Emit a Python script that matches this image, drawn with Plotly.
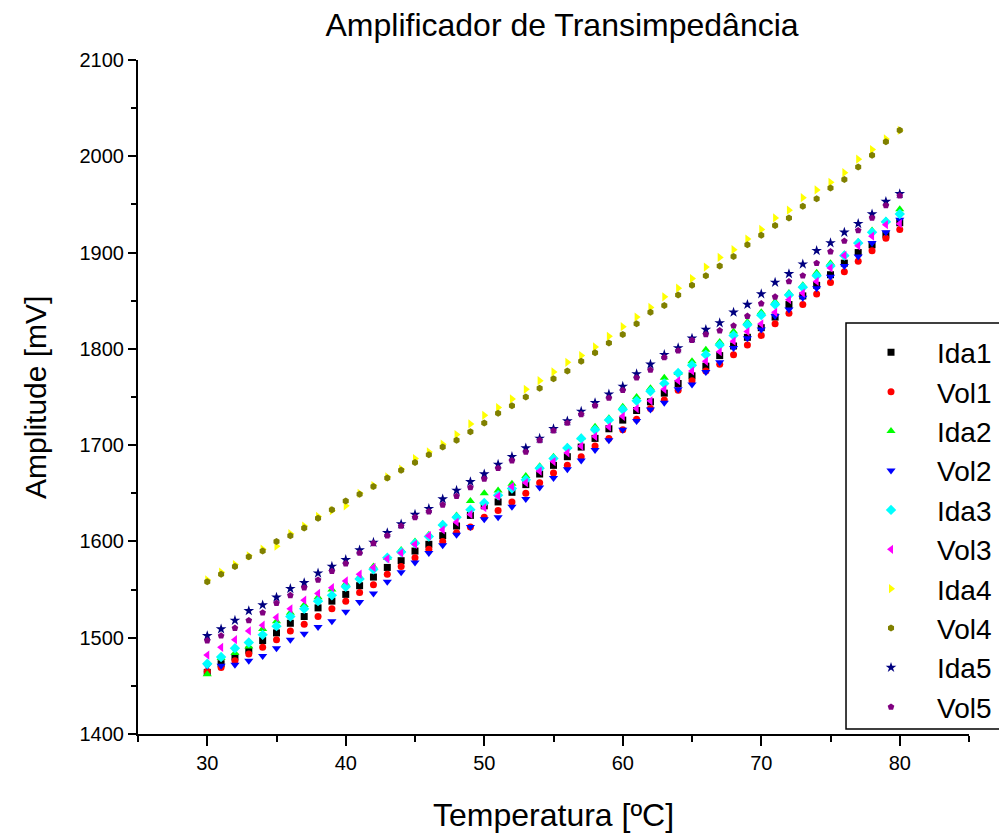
import plotly.graph_objects as go

# Temperature sweep (ºC)
temperatura = list(range(30, 81))

ida1 = [1464, 1473, 1480, 1487, 1497, 1505, 1515, 1522, 1531, 1538,
        1545, 1554, 1563, 1573, 1580, 1590, 1597, 1606, 1616, 1627,
        1637, 1641, 1651, 1659, 1670, 1679, 1688, 1698, 1707, 1717,
        1726, 1736, 1745, 1754, 1764, 1772, 1782, 1793, 1803, 1812,
        1822, 1833, 1846, 1855, 1866, 1877, 1889, 1900, 1908, 1919, 1931]
vol1 = [1465, 1469, 1476, 1483, 1490, 1498, 1507, 1514, 1522, 1530,
        1538, 1547, 1555, 1566, 1574, 1583, 1592, 1600, 1609, 1615,
        1625, 1632, 1641, 1650, 1661, 1671, 1679, 1688, 1699, 1707,
        1716, 1727, 1738, 1747, 1757, 1767, 1777, 1784, 1794, 1804,
        1814, 1826, 1837, 1846, 1857, 1869, 1880, 1891, 1902, 1915, 1924]
ida2 = [1462, 1479, 1484, 1491, 1509, 1517, 1526, 1534, 1542, 1550,
        1556, 1563, 1574, 1583, 1591, 1600, 1607, 1618, 1627, 1642,
        1650, 1653, 1660, 1668, 1678, 1688, 1698, 1708, 1719, 1728,
        1740, 1750, 1759, 1770, 1775, 1787, 1799, 1807, 1818, 1828,
        1838, 1849, 1858, 1866, 1879, 1889, 1898, 1911, 1923, 1933, 1945]
vol2 = [1471, 1471, 1472, 1476, 1481, 1489, 1498, 1504, 1511, 1517,
        1527, 1537, 1546, 1558, 1568, 1578, 1588, 1596, 1607, 1615,
        1623, 1625, 1636, 1644, 1656, 1666, 1675, 1684, 1695, 1705,
        1716, 1725, 1737, 1744, 1758, 1763, 1776, 1786, 1801, 1811,
        1820, 1834, 1841, 1853, 1863, 1875, 1886, 1896, 1910, 1921, 1934]
ida3 = [1473, 1480, 1489, 1495, 1503, 1512, 1522, 1530, 1538, 1544,
        1553, 1561, 1571, 1583, 1589, 1598, 1605, 1617, 1625, 1633,
        1640, 1648, 1655, 1664, 1676, 1686, 1697, 1707, 1716, 1726,
        1737, 1746, 1756, 1764, 1775, 1783, 1794, 1804, 1814, 1825,
        1835, 1846, 1856, 1864, 1876, 1886, 1897, 1910, 1921, 1932, 1940]
vol3 = [1482, 1490, 1498, 1507, 1513, 1521, 1530, 1539, 1546, 1552,
        1559, 1566, 1573, 1582, 1588, 1597, 1606, 1612, 1620, 1628,
        1635, 1647, 1657, 1661, 1673, 1683, 1692, 1699, 1709, 1719,
        1730, 1738, 1746, 1758, 1767, 1777, 1787, 1797, 1808, 1818,
        1826, 1838, 1851, 1858, 1870, 1884, 1897, 1907, 1917, 1929, 1930]
ida4 = [1560, 1568, 1576, 1585, 1592, 1595, 1608, 1616, 1626, 1632,
        1637, 1650, 1658, 1667, 1675, 1686, 1693, 1701, 1711, 1722,
        1731, 1739, 1748, 1758, 1767, 1776, 1786, 1793, 1802, 1813,
        1823, 1833, 1843, 1854, 1863, 1873, 1885, 1895, 1903, 1914,
        1924, 1936, 1944, 1957, 1965, 1973, 1983, 1997, 2007, 2018, 2027]
vol4 = [1558, 1566, 1574, 1584, 1590, 1600, 1606, 1614, 1624, 1633,
        1642, 1649, 1657, 1666, 1674, 1682, 1690, 1698, 1705, 1714,
        1723, 1733, 1741, 1750, 1759, 1769, 1777, 1787, 1796, 1806,
        1815, 1826, 1838, 1845, 1856, 1866, 1876, 1886, 1896, 1908,
        1918, 1928, 1936, 1948, 1956, 1967, 1976, 1989, 2001, 2015, 2027]
ida5 = [1502, 1509, 1518, 1528, 1534, 1542, 1551, 1557, 1567, 1574,
        1581, 1591, 1599, 1609, 1618, 1628, 1634, 1644, 1653, 1662,
        1670, 1680, 1688, 1697, 1707, 1717, 1725, 1735, 1744, 1753,
        1761, 1774, 1784, 1794, 1801, 1811, 1820, 1827, 1838, 1846,
        1857, 1869, 1878, 1888, 1902, 1910, 1921, 1930, 1940, 1953, 1961]
vol5 = [1497, 1502, 1510, 1518, 1526, 1536, 1544, 1552, 1560, 1569,
        1577, 1588, 1598, 1606, 1616, 1625, 1631, 1638, 1647, 1656,
        1665, 1676, 1684, 1693, 1705, 1715, 1723, 1732, 1741, 1749,
        1757, 1770, 1778, 1791, 1798, 1809, 1815, 1819, 1824, 1834,
        1847, 1854, 1870, 1876, 1889, 1901, 1912, 1923, 1936, 1949, 1959]

series_names = ["Ida1", "Vol1", "Ida2", "Vol2", "Ida3",
                "Vol3", "Ida4", "Vol4", "Ida5", "Vol5"]
series_values = [ida1, vol1, ida2, vol2, ida3, vol3, ida4, vol4, ida5, vol5]
colors = ["#000000", "#FF0000", "#00FF00", "#0000FF", "#00FFFF",
          "#FF00FF", "#FFFF00", "#808000", "#000080", "#800080"]
symbols = ["square", "circle", "triangle-up", "triangle-down", "diamond",
           "triangle-left", "triangle-right", "hexagon", "star", "pentagon"]
sizes = [7, 7, 8, 8, 8, 8, 8, 7, 8, 7]

FONT = "Arial, Liberation Sans, sans-serif"

fig = go.Figure()
for name, vals, col, sym, sz in zip(series_names, series_values, colors, symbols, sizes):
    fig.add_trace(go.Scatter(
        x=temperatura, y=vals, mode="markers", name=name,
        marker=dict(color=col, symbol=sym, size=sz, line=dict(width=0)),
    ))

axis_common = dict(
    showgrid=False, zeroline=False, showline=True, linecolor="black",
    linewidth=2, ticks="outside", tickwidth=2, tickcolor="black",
    tickfont=dict(family=FONT, size=20, color="black"),
)

fig.update_xaxes(range=[25, 85], tickvals=[30, 40, 50, 60, 70, 80],
                 ticklen=10,
                 minor=dict(tickvals=[25, 35, 45, 55, 65, 75, 85], ticklen=6,
                            tickwidth=2, tickcolor="black", ticks="outside"),
                 **axis_common)
fig.update_yaxes(range=[1400, 2100], dtick=100, ticklen=8,
                 minor=dict(dtick=50, ticklen=5, tickwidth=2,
                            tickcolor="black", ticks="outside"),
                 **axis_common)

# legend frame
fig.add_shape(type="rect", xref="paper", yref="paper",
              x0=0.852, x1=1.06, y0=0.0074, y1=0.6098,
              line=dict(color="black", width=1.5), fillcolor="white",
              layer="below")

fig.update_layout(
    width=999, height=836,
    margin=dict(l=138, r=30, t=60, b=102, autoexpand=False),
    paper_bgcolor="white", plot_bgcolor="white",
    font=dict(family=FONT, color="black"),
    title=dict(text="Amplificador de Transimpedância", x=0.5626, xref="container",
               xanchor="center", y=0.970, yref="container", yanchor="middle",
               font=dict(family=FONT, size=32, color="black")),
    legend=dict(x=0.8508, y=0.603, xanchor="left", yanchor="top",
                bgcolor="rgba(0,0,0,0)", borderwidth=0,
                font=dict(family=FONT, size=28, color="black"),
                itemwidth=82),
    annotations=[
        dict(text="Amplitude [mV]", xref="paper", yref="paper",
             x=-0.124, y=0.5, xanchor="center", yanchor="middle",
             textangle=-90, showarrow=False,
             font=dict(family=FONT, size=30, color="black")),
        dict(text="Temperatura [ºC]", xref="paper", yref="paper",
             x=0.5, y=-0.12, xanchor="center", yanchor="middle",
             showarrow=False,
             font=dict(family=FONT, size=32, color="black")),
    ],
)

fig.write_html("out.html")
